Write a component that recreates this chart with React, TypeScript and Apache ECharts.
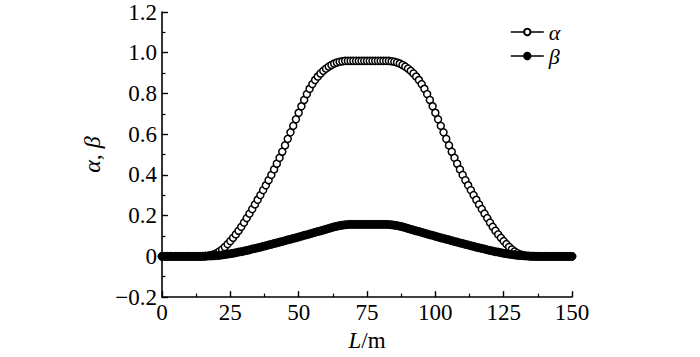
import React, { useEffect, useRef } from 'react';
import * as echarts from 'echarts';

// sampling step along L (m)
const stepM = 1;

// alpha(L) for L = 0..150 m
const alpha = [
  0, 0, 0, 0, 0, 0, 0, 0, 0, 0, 0, 0, 0, 0, 0, 0,
  0.001, 0.003, 0.006, 0.01, 0.016, 0.024, 0.034, 0.046, 0.06, 0.075,
  0.091, 0.108, 0.126, 0.145, 0.166, 0.188, 0.21, 0.232, 0.255, 0.278,
  0.301, 0.325, 0.349, 0.374, 0.4, 0.427, 0.455, 0.484, 0.514, 0.545,
  0.577, 0.609, 0.641, 0.673, 0.705, 0.737, 0.768, 0.797, 0.823, 0.846,
  0.866, 0.883, 0.898, 0.911, 0.922, 0.932, 0.94, 0.947, 0.952, 0.956, 0.958,
  0.96, 0.96, 0.96, 0.96, 0.96, 0.96, 0.96, 0.96, 0.96, 0.96, 0.96, 0.96, 0.96, 0.96, 0.96, 0.96, 0.96,
  0.958, 0.956, 0.952, 0.947, 0.94, 0.932, 0.922, 0.911, 0.898, 0.883,
  0.866, 0.846, 0.823, 0.797, 0.768, 0.737, 0.705, 0.673, 0.641, 0.609,
  0.577, 0.545, 0.514, 0.484, 0.455, 0.427, 0.4, 0.374, 0.349, 0.325,
  0.301, 0.278, 0.255, 0.232, 0.21, 0.188, 0.166, 0.145, 0.126, 0.108,
  0.091, 0.075, 0.06, 0.046, 0.034, 0.024, 0.016, 0.01, 0.006, 0.003, 0.001,
  0, 0, 0, 0, 0, 0, 0, 0, 0, 0, 0, 0, 0, 0, 0, 0,
];

// beta(L) for L = 0..150 m
const beta = [
  0, 0, 0, 0, 0, 0, 0, 0, 0, 0, 0, 0, 0, 0, 0,
  0.001, 0.001, 0.002, 0.002, 0.003, 0.004, 0.005, 0.007, 0.009, 0.011,
  0.013, 0.015, 0.018, 0.021, 0.023, 0.026, 0.029, 0.032, 0.036, 0.039,
  0.042, 0.045, 0.049, 0.052, 0.056, 0.059, 0.063, 0.066, 0.07, 0.073,
  0.077, 0.081, 0.084, 0.088, 0.091, 0.095, 0.099, 0.103, 0.106, 0.11,
  0.114, 0.118, 0.122, 0.125, 0.129, 0.133, 0.137, 0.141, 0.145, 0.148,
  0.151, 0.153, 0.155, 0.156,
  0.157, 0.157, 0.157, 0.157, 0.157, 0.157, 0.157, 0.157, 0.157, 0.157, 0.157, 0.157, 0.157, 0.157,
  0.156, 0.155, 0.153, 0.151, 0.148, 0.145, 0.141, 0.137, 0.133, 0.129,
  0.125, 0.122, 0.118, 0.114, 0.11, 0.106, 0.103, 0.099, 0.095, 0.091,
  0.088, 0.084, 0.081, 0.077, 0.073, 0.07, 0.066, 0.063, 0.059, 0.056,
  0.052, 0.049, 0.045, 0.042, 0.039, 0.036, 0.032, 0.029, 0.026, 0.023,
  0.021, 0.018, 0.015, 0.013, 0.011, 0.009, 0.007, 0.005, 0.004, 0.003,
  0.002, 0.002, 0.001, 0.001,
  0, 0, 0, 0, 0, 0, 0, 0, 0, 0, 0, 0, 0, 0,
];

const lengthM = alpha.map((_, i) => i * stepM);

const seriesNames = ['α', 'β'];
const xTicks = { min: 0, max: 150, interval: 25 };
const yTicks = { min: -0.2, max: 1.2, interval: 0.2 };

const FONT = "'Liberation Serif', 'Times New Roman', serif";

export default function App() {
  const ref = useRef<HTMLDivElement>(null);

  useEffect(() => {
    if (!ref.current) return;
    const chart = echarts.init(ref.current, undefined, { renderer: 'svg' });

    const axisCommon = {
      axisLine: { show: true, onZero: false, lineStyle: { color: '#000', width: 1.6 } },
      axisTick: { show: true, inside: true, length: 6, lineStyle: { color: '#000', width: 1.4 } },
      minorTick: { show: true, splitNumber: 2, length: 3.5, lineStyle: { color: '#000', width: 1.2 } },
      splitLine: { show: false },
      minorSplitLine: { show: false },
    };

    chart.setOption({
      animation: false,
      backgroundColor: '#fff',
      textStyle: { fontFamily: FONT },
      grid: { left: 162, right: 128, top: 12, bottom: 46, containLabel: false },
      legend: {
        orient: 'vertical',
        left: 505,
        top: 16,
        itemWidth: 33,
        itemHeight: 8,
        itemGap: 2,
        data: seriesNames,
        textStyle: { fontFamily: FONT, fontStyle: 'italic', fontSize: 22, color: '#000', lineHeight: 20 },
        lineStyle: { color: '#000', width: 1.6, opacity: 1, type: 'solid' },
      },
      xAxis: {
        type: 'value',
        ...xTicks,
        ...axisCommon,
        axisLabel: { color: '#000', fontSize: 23, fontFamily: FONT, margin: 4 },
        name: '{i|L}/m',
        nameLocation: 'middle',
        nameGap: 31,
        nameTextStyle: {
          color: '#000',
          fontSize: 23,
          fontFamily: FONT,
          rich: { i: { fontStyle: 'italic', fontSize: 23, fontFamily: FONT, color: '#000' } },
        },
      },
      yAxis: {
        type: 'value',
        ...yTicks,
        ...axisCommon,
        axisLabel: {
          color: '#000',
          fontSize: 23,
          fontFamily: FONT,
          margin: 5,
          formatter: (v: number) => {
            if (Math.abs(v) < 1e-9) return '0';
            return v < 0 ? '\u2212' + Math.abs(v).toFixed(1) : v.toFixed(1);
          },
        },
        name: '{i|α}, {i|β}',
        nameLocation: 'middle',
        nameGap: 56,
        nameTextStyle: {
          color: '#000',
          fontSize: 24,
          fontFamily: FONT,
          rich: { i: { fontStyle: 'italic', fontSize: 24, fontFamily: FONT, color: '#000' } },
        },
      },
      series: [
        {
          name: seriesNames[0],
          type: 'line',
          data: alpha.map((v, i) => [lengthM[i], v]),
          symbol: 'circle',
          symbolSize: 7,
          showAllSymbol: true,
          lineStyle: { width: 0, opacity: 0, color: '#000' },
          itemStyle: { color: '#fff', borderColor: '#000', borderWidth: 1.5 },
          z: 2,
        },
        {
          name: seriesNames[1],
          type: 'line',
          data: beta.map((v, i) => [lengthM[i], v]),
          symbol: 'circle',
          symbolSize: 8,
          showAllSymbol: true,
          lineStyle: { width: 0, opacity: 0, color: '#000' },
          itemStyle: { color: '#000', borderColor: '#000', borderWidth: 1 },
          z: 3,
        },
      ],
    });

    return () => chart.dispose();
  }, []);

  return (
    <div
      ref={ref}
      style={{ position: 'absolute', left: 0, top: 0, width: 700, height: 357 }}
    />
  );
}
